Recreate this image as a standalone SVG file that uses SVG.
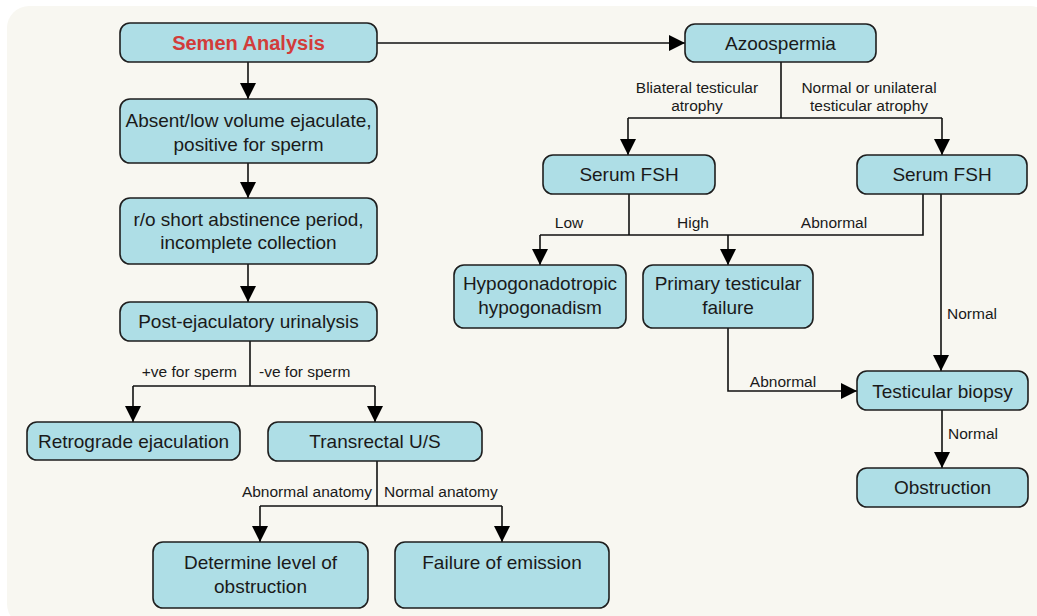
<svg xmlns="http://www.w3.org/2000/svg" width="1037" height="616" viewBox="0 0 1037 616">
<style>
.box{fill:#aedee6;stroke:#1e1e1e;stroke-width:1.6}
.t{font-family:"Liberation Sans",Arial,sans-serif;font-size:19px;fill:#1a1a1a;text-anchor:middle}
.lb{font-family:"Liberation Sans",Arial,sans-serif;font-size:15.5px;fill:#1a1a1a}
.ln{fill:none;stroke:#111;stroke-width:1.6}
.title{font-family:"Liberation Sans",Arial,sans-serif;font-size:20px;font-weight:bold;fill:#d23c3a;text-anchor:middle}
</style>
<defs>
<marker id="ah" markerUnits="userSpaceOnUse" markerWidth="16" markerHeight="16" viewBox="0 0 16 16" refX="16" refY="8" orient="auto">
<path d="M0,0 L16,8 L0,16 Z" fill="#000"/>
</marker>
</defs>
<rect x="7" y="6" width="1045" height="620" rx="22" fill="#f8f7f1"/>
<g id="connectors">
<path class="ln" d="M377,43 H685" marker-end="url(#ah)"/>
<path class="ln" d="M248,62 V99" marker-end="url(#ah)"/>
<path class="ln" d="M248,163 V198" marker-end="url(#ah)"/>
<path class="ln" d="M248,264 V302" marker-end="url(#ah)"/>
<path class="ln" d="M250,341 V386"/>
<path class="ln" d="M133,386 H375"/>
<path class="ln" d="M133,386 V422" marker-end="url(#ah)"/>
<path class="ln" d="M375,386 V422" marker-end="url(#ah)"/>
<path class="ln" d="M377,461 V506"/>
<path class="ln" d="M260,506 H502"/>
<path class="ln" d="M260,506 V542" marker-end="url(#ah)"/>
<path class="ln" d="M502,506 V542" marker-end="url(#ah)"/>
<path class="ln" d="M781,62 V118"/>
<path class="ln" d="M628,118 H942"/>
<path class="ln" d="M628,118 V155" marker-end="url(#ah)"/>
<path class="ln" d="M942,118 V155" marker-end="url(#ah)"/>
<path class="ln" d="M629,194 V235"/>
<path class="ln" d="M540,235 H923 V194"/>
<path class="ln" d="M540,235 V265" marker-end="url(#ah)"/>
<path class="ln" d="M728,235 V265" marker-end="url(#ah)"/>
<path class="ln" d="M941,194 V371" marker-end="url(#ah)"/>
<path class="ln" d="M728,328 V391 H857" marker-end="url(#ah)"/>
<path class="ln" d="M942,410 V468" marker-end="url(#ah)"/>
</g>
<g id="labels">
<text class="lb" x="237" y="377" text-anchor="end">+ve for sperm</text>
<text class="lb" x="259" y="377">-ve for sperm</text>
<text class="lb" x="372" y="497" text-anchor="end">Abnormal anatomy</text>
<text class="lb" x="384" y="497">Normal anatomy</text>
<text class="lb" x="697" y="93" text-anchor="middle">Bliateral testicular</text>
<text class="lb" x="697" y="111" text-anchor="middle">atrophy</text>
<text class="lb" x="869" y="93" text-anchor="middle">Normal or unilateral</text>
<text class="lb" x="869" y="111" text-anchor="middle">testicular atrophy</text>
<text class="lb" x="569" y="228" text-anchor="middle">Low</text>
<text class="lb" x="693" y="228" text-anchor="middle">High</text>
<text class="lb" x="834" y="228" text-anchor="middle">Abnormal</text>
<text class="lb" x="947" y="319">Normal</text>
<text class="lb" x="783" y="387" text-anchor="middle">Abnormal</text>
<text class="lb" x="948" y="439">Normal</text>
</g>
<g id="semen"><rect class="box" x="120" y="23" width="257" height="39" rx="10"/><text class="title" x="248.5" y="50">Semen Analysis</text></g>
<g id="absent"><rect class="box" x="120" y="99" width="257" height="64" rx="10"/><text class="t" x="248.5" y="127">Absent/low volume ejaculate,</text><text class="t" x="248.5" y="151">positive for sperm</text></g>
<g id="ro"><rect class="box" x="120" y="198" width="257" height="66" rx="10"/><text class="t" x="248.5" y="226">r/o short abstinence period,</text><text class="t" x="248.5" y="249">incomplete collection</text></g>
<g id="post"><rect class="box" x="120" y="302" width="257" height="39" rx="10"/><text class="t" x="248.5" y="328">Post-ejaculatory urinalysis</text></g>
<g id="retro"><rect class="box" x="27" y="422" width="213" height="38" rx="10"/><text class="t" x="133.5" y="448">Retrograde ejaculation</text></g>
<g id="trus"><rect class="box" x="268" y="422" width="214" height="39" rx="10"/><text class="t" x="375" y="448">Transrectal U/S</text></g>
<g id="determine"><rect class="box" x="153" y="542" width="215" height="66" rx="10"/><text class="t" x="260.5" y="569">Determine level of</text><text class="t" x="260.5" y="593">obstruction</text></g>
<g id="failure"><rect class="box" x="395" y="542" width="214" height="66" rx="10"/><text class="t" x="502" y="569">Failure of emission</text></g>
<g id="azoo"><rect class="box" x="685" y="24" width="191" height="38" rx="10"/><text class="t" x="780.5" y="50">Azoospermia</text></g>
<g id="fsh1"><rect class="box" x="543" y="155" width="172" height="39" rx="10"/><text class="t" x="629" y="181">Serum FSH</text></g>
<g id="fsh2"><rect class="box" x="857" y="155" width="170" height="39" rx="10"/><text class="t" x="942" y="181">Serum FSH</text></g>
<g id="hypo"><rect class="box" x="454" y="265" width="172" height="63" rx="10"/><text class="t" x="540" y="290">Hypogonadotropic</text><text class="t" x="540" y="314">hypogonadism</text></g>
<g id="primary"><rect class="box" x="643" y="265" width="170" height="63" rx="10"/><text class="t" x="728" y="290">Primary testicular</text><text class="t" x="728" y="314">failure</text></g>
<g id="biopsy"><rect class="box" x="857" y="371" width="171" height="39" rx="10"/><text class="t" x="942.5" y="398">Testicular biopsy</text></g>
<g id="obstruction"><rect class="box" x="857" y="468" width="171" height="39" rx="10"/><text class="t" x="942.5" y="494">Obstruction</text></g>
</svg>
